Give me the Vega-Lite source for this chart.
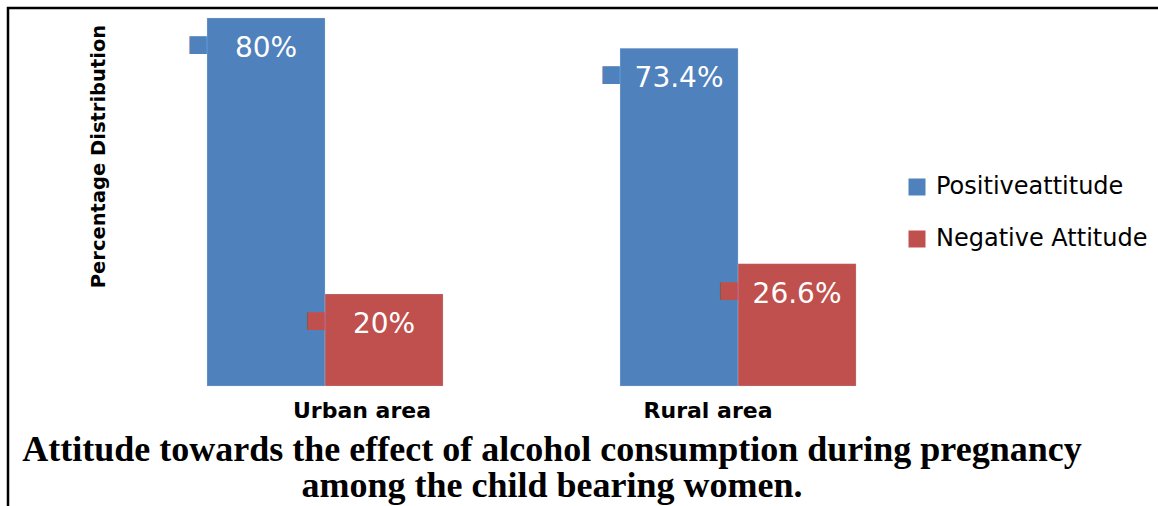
{
  "$schema": "https://vega.github.io/schema/vega-lite/v6.json",
  "autosize": {"type": "none"},
  "padding": {"left": 8, "top": 8, "right": 0, "bottom": 0},
  "width": 1160,
  "height": 520,
  "background": "white",
  "config": {
    "view": {"stroke": "#000000", "strokeWidth": 2.5},
    "font": "DejaVu Sans"
  },
  "title": {
    "text": ["Attitude towards the effect of alcohol consumption during pregnancy", "among the child bearing women."],
    "orient": "bottom",
    "frame": "group",
    "anchor": "middle",
    "align": "center",
    "dx": -36,
    "offset": -67,
    "baseline": "alphabetic",
    "font": "Liberation Serif",
    "fontSize": 36,
    "fontWeight": "bold",
    "lineHeight": 36,
    "color": "#000000"
  },
  "data": {
    "values": [
      {"area": "Urban area", "attitude": "Positiveattitude", "pct": 80, "label": "80%"},
      {"area": "Urban area", "attitude": "Negative Attitude", "pct": 20, "label": "20%"},
      {"area": "Rural area", "attitude": "Positiveattitude", "pct": 73.4, "label": "73.4%"},
      {"area": "Rural area", "attitude": "Negative Attitude", "pct": 26.6, "label": "26.6%"}
    ]
  },
  "encoding": {
    "x": {
      "field": "area",
      "type": "nominal",
      "sort": ["Urban area", "Rural area"],
      "scale": {"paddingInner": 0.4286, "paddingOuter": 0.6186, "align": 0.3895},
      "axis": {
        "title": null,
        "orient": "bottom",
        "offset": -142,
        "domain": false,
        "ticks": false,
        "grid": false,
        "labelAngle": 0,
        "labelFont": "DejaVu Sans",
        "labelFontSize": 22,
        "labelFontWeight": "bold",
        "labelColor": "#000000",
        "labelPadding": 14,
        "labelBaseline": "top",
        "labelOffset": {"condition": {"test": "datum.value == 'Urban area'", "value": 37}, "value": -30}
      }
    },
    "xOffset": {
      "field": "attitude",
      "type": "nominal",
      "sort": ["Positiveattitude", "Negative Attitude"],
      "scale": {"paddingInner": 0, "paddingOuter": 0}
    },
    "y": {
      "field": "pct",
      "type": "quantitative",
      "scale": {"domain": [-30.87, 82.174], "nice": false, "zero": false},
      "axis": {
        "title": "Percentage Distribution",
        "orient": "left",
        "domain": false,
        "ticks": false,
        "labels": false,
        "grid": false,
        "titleFont": "DejaVu Sans",
        "titleFontSize": 19.5,
        "titleFontWeight": "bold",
        "titleColor": "#000000",
        "titleAngle": -90,
        "titleX": 90,
        "titleY": 148,
        "titleAlign": "center",
        "titleBaseline": "middle",
        "minExtent": 0,
        "maxExtent": 0
      }
    },
    "color": {
      "field": "attitude",
      "type": "nominal",
      "sort": ["Positiveattitude", "Negative Attitude"],
      "scale": {"domain": ["Positiveattitude", "Negative Attitude"], "range": ["#4F81BD", "#C0504D"]},
      "legend": {
        "title": null,
        "orient": "none",
        "legendX": 897,
        "legendY": 167,
        "padding": 0,
        "symbolType": "square",
        "symbolSize": 289,
        "symbolStrokeWidth": 0,
        "labelFont": "DejaVu Sans",
        "labelFontSize": 24,
        "labelColor": "#000000",
        "labelOffset": 7,
        "labelLimit": 400,
        "rowPadding": 28
      }
    }
  },
  "layer": [
    {"mark": {"type": "bar", "stroke": "#C9D7EA", "strokeWidth": 0.5, "strokeOpacity": 0.5}, "encoding": {"y2": {"datum": 0}}},
    {
      "mark": {"type": "text", "text": "■", "fontSize": 23, "font": "DejaVu Sans", "baseline": "middle", "align": "center", "dx": -68, "dy": 26}
    },
    {
      "mark": {"type": "text", "color": "white", "fontSize": 28, "font": "DejaVu Sans", "baseline": "middle", "align": "center", "dy": 31},
      "encoding": {"text": {"field": "label"}, "color": {"value": "white"}}
    }
  ]
}
